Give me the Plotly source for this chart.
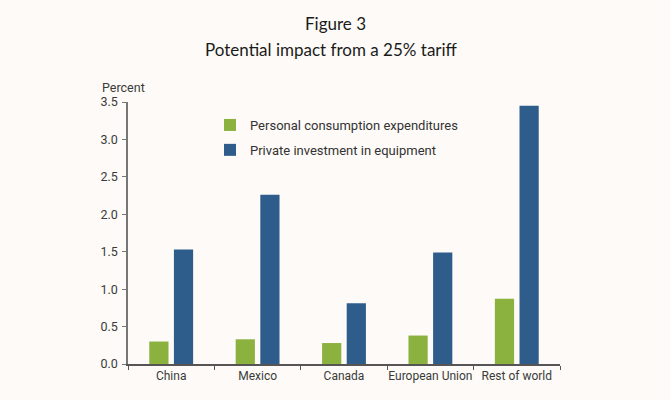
import plotly.graph_objects as go

categories = ["China", "Mexico", "Canada", "European Union", "Rest of world"]
pce = [0.30, 0.33, 0.28, 0.38, 0.87]
equipment = [1.53, 2.26, 0.81, 1.49, 3.45]
series_names = ["Personal consumption expenditures", "Private investment in equipment"]
y_ticks = [0.0, 0.5, 1.0, 1.5, 2.0, 2.5, 3.0, 3.5]

GREEN = "#8bb13e"
BLUE = "#2e5d8c"
BG = "#fdfaf7"
TICKFONT = dict(family="Roboto, Arial, sans-serif", size=12.5, color="#3a3a3a")

W, H = 670, 400
L, R, T, B = 128, 110, 102, 36
PW, PH = W - L - R, H - T - B


def px_x(px):
    return (px - L) / PW


def px_y(py):
    return (H - B - py) / PH


fig = go.Figure()
fig.add_trace(go.Bar(x=categories, y=pce, name=series_names[0], marker_color=GREEN,
                     marker_line_width=0, legendgroup="a"))
fig.add_trace(go.Bar(x=categories, y=equipment, name=series_names[1], marker_color=BLUE,
                     marker_line_width=0, legendgroup="b"))

fig.update_layout(
    width=W, height=H,
    paper_bgcolor=BG, plot_bgcolor=BG,
    margin=dict(l=L, r=R, t=T, b=B, autoexpand=False),
    barmode="group", bargap=0.43, bargroupgap=0.22,
    showlegend=True,
    legend=dict(x=px_x(210), y=px_y(110), xanchor="left", yanchor="top",
                bgcolor="rgba(0,0,0,0)", font=dict(family="Roboto, Arial, sans-serif", size=13, color="#333333"),
                itemwidth=30, tracegroupgap=5, traceorder="grouped"),
    annotations=[
        dict(text="Figure 3", x=px_x(335), y=px_y(23), xref="paper", yref="paper", showarrow=False,
             xanchor="center", yanchor="middle",
             font=dict(family="Lato, sans-serif", size=17, color="#1a1a1a")),
        dict(text="Potential impact from a 25% tariff", x=px_x(331), y=px_y(50), xref="paper", yref="paper",
             xanchor="center", yanchor="middle", showarrow=False,
             font=dict(family="Lato, sans-serif", size=17, color="#1a1a1a")),
        dict(text="Percent", x=px_x(100), y=px_y(87), xref="paper", yref="paper", xanchor="left",
             yanchor="middle", showarrow=False, font=TICKFONT),
    ],
)

fig.update_yaxes(range=[0, 3.5], tickvals=y_ticks, ticktext=[f"{v:.1f}" for v in y_ticks],
                 showgrid=False, zeroline=False, showline=True, linecolor="#777777", linewidth=1.5,
                 ticks="outside", ticklen=4, tickcolor="#777777", tickfont=TICKFONT, ticklabelstandoff=2,
                 automargin=False)
fig.update_xaxes(showgrid=False, showline=True, linecolor="#555555", linewidth=1.5,
                 ticks="outside", tickson="boundaries", ticklen=4, tickcolor="#555555",
                 tickfont=dict(family="Roboto, Arial, sans-serif", size=12, color="#3a3a3a"),
                 tickangle=0, automargin=False)

fig.write_html("out.html")
